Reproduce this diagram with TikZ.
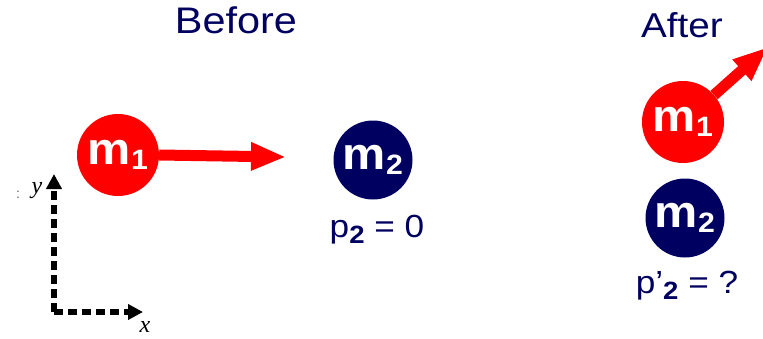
\documentclass[tikz,border=0pt]{standalone}
\usepackage{fontspec}
\setmainfont{Liberation Sans}
\newfontfamily\serifit{Liberation Serif}
\usetikzlibrary{arrows.meta}
\definecolor{navyb}{RGB}{0,0,96}
\definecolor{redb}{RGB}{255,0,0}
\tikzset{
  ball/.style={circle, minimum size=#1, inner sep=0pt, text=white, font=\fontsize{45}{45}\selectfont\bfseries},
  redball/.style={ball=82pt, fill=redb},
  navyball/.style={ball=79pt, fill=navyb},
  title/.style={text=navyb, anchor=base, inner sep=0pt},
  plabel/.style={text=navyb, anchor=base, inner sep=0pt, font=\fontsize{32}{34}\selectfont},
  momentum/.style={redb, line width=11pt, -{Triangle[length=35pt,width=26pt]}},
  axis/.style={line width=6pt, dash pattern=on 9pt off 5pt, -{Triangle[length=15pt,width=15pt]}},
  axlabel/.style={font=\fontsize{24}{24}\selectfont\serifit\itshape}
}
\newcommand{\msub}[1]{\scalebox{1.08}[1]{m\raisebox{-0.12em}{\fontsize{28}{28}\selectfont #1}}}
\newcommand{\psub}[1]{\raisebox{-0.2em}{\fontsize{25}{25}\selectfont\bfseries #1}}
\begin{document}
\begin{tikzpicture}[x=1pt,y=-1pt]
\useasboundingbox (0,0) rectangle (763,338);
% Before
\node[title, font=\fontsize{37}{38}\selectfont] (before) at (236,33) {\scalebox{1.12}[1]{Before}};
\node[redball] (m1b) at (118,155) {\msub{1}};
\coordinate (tipb) at (286,157);
\draw[momentum] (m1b.east) -- (tipb);
\node[navyball] (m2b) at (373,160) {\msub{2}};
\node[plabel] (p2) at (377,237) {\scalebox{1.1}[1]{p\psub{2} = 0}};
% After
\node[title, font=\fontsize{34.5}{36}\selectfont] (after) at (682,37) {\scalebox{1.12}[1]{After}};
\node[redball] (m1a) at (683,122) {\msub{1}};
\coordinate (tipa) at (768,47);
\draw[momentum] (m1a.41) -- (tipa);
\node[navyball] (m2a) at (685,218) {\msub{2}};
\node[plabel] (p2a) at (687,293) {\scalebox{1.1}[1]{p\symbol{39}\psub{2} = ?}};
% axes
\coordinate (o) at (54,312);
\coordinate (ytip) at (54,174);
\coordinate (xtip) at (143,312);
\draw[axis] (o) -- (ytip);
\draw[axis] (o) -- (xtip);
\node[axlabel] (ylab) at (37,191) {y};
\node[axlabel, text=black!60, font=\fontsize{14}{14}\selectfont] (colon) at (18,195) {:};
\node[axlabel] (xlab) at (145,327) {x};
\end{tikzpicture}
\end{document}
